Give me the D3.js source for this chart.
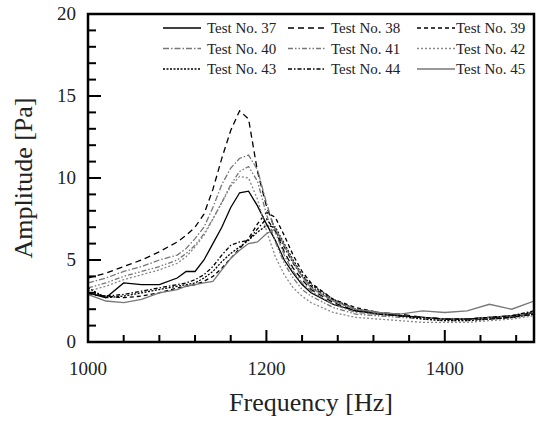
<!DOCTYPE html>
<html>
<head>
<meta charset="utf-8">
<script src="https://cdn.jsdelivr.net/npm/d3@7"></script>
<style>
  html, body { margin: 0; padding: 0; background: #fff; }
  svg { display: block; font-family: 'Liberation Serif', 'Times New Roman', serif; }
</style>
</head>
<body>
<div id="chart"></div>
<script>
// frequency grid [Hz] shared by all tests
const freq = [1000, 1020, 1040, 1060, 1080, 1100, 1110, 1120, 1130, 1140, 1150, 1160, 1170, 1180, 1190, 1200,
  1210, 1220, 1230, 1240, 1250, 1275, 1300, 1325, 1350, 1375, 1400, 1425, 1450, 1475, 1500];

// amplitude [Pa]
const t37 = [3.0, 2.7, 3.6, 3.5, 3.5, 3.9, 4.3, 4.3, 5.0, 6.0, 7.0, 8.2, 9.1, 9.2, 8.3, 7.2,
  6.2, 5.0, 4.2, 3.5, 3.0, 2.3, 1.9, 1.7, 1.6, 1.5, 1.4, 1.4, 1.5, 1.6, 1.8];
const t38 = [3.9, 4.2, 4.6, 5.0, 5.5, 6.1, 6.5, 7.0, 7.8, 9.3, 11.2, 12.9, 14.1, 13.6, 10.4, 8.3,
  6.8, 5.5, 4.5, 3.8, 3.2, 2.4, 1.9, 1.8, 1.7, 1.5, 1.4, 1.4, 1.5, 1.5, 1.7];
const t39 = [2.9, 2.8, 2.7, 2.8, 3.0, 3.3, 3.4, 3.5, 3.7, 4.0, 4.5, 5.1, 5.7, 6.3, 7.2, 7.9,
  7.6, 6.5, 5.3, 4.3, 3.6, 2.6, 2.1, 1.8, 1.6, 1.5, 1.4, 1.4, 1.4, 1.5, 1.8];
const t40 = [3.6, 3.9, 4.3, 4.6, 5.0, 5.3, 5.7, 6.3, 7.0, 8.2, 9.6, 10.6, 11.2, 11.4, 10.5, 8.5,
  6.7, 5.3, 4.3, 3.6, 3.1, 2.3, 1.8, 1.7, 1.6, 1.5, 1.4, 1.4, 1.5, 1.6, 1.8];
const t41 = [3.3, 3.6, 4.0, 4.3, 4.6, 5.0, 5.4, 5.9, 6.6, 7.5, 8.5, 9.6, 10.4, 10.7, 9.8, 7.8,
  6.1, 4.8, 3.9, 3.2, 2.8, 2.1, 1.7, 1.6, 1.5, 1.4, 1.3, 1.3, 1.4, 1.5, 1.7];
const t42 = [3.1, 3.4, 3.8, 4.1, 4.4, 4.8, 5.2, 5.8, 6.5, 7.5, 8.5, 9.5, 10.1, 10.0, 8.7, 6.8,
  5.2, 4.1, 3.3, 2.8, 2.4, 1.8, 1.5, 1.4, 1.3, 1.2, 1.2, 1.2, 1.3, 1.4, 1.6];
const t43 = [3.3, 2.7, 2.8, 3.0, 3.2, 3.4, 3.5, 3.6, 3.9, 4.3, 4.9, 5.4, 5.8, 6.2, 6.7, 7.1,
  7.0, 6.0, 5.0, 4.1, 3.5, 2.6, 2.0, 1.8, 1.6, 1.4, 1.3, 1.3, 1.4, 1.5, 1.7];
const t44 = [3.0, 2.8, 2.9, 3.1, 3.3, 3.5, 3.6, 3.8, 4.1, 4.6, 5.3, 5.9, 6.1, 6.2, 6.9, 7.5,
  6.8, 5.8, 4.8, 4.0, 3.4, 2.5, 2.0, 1.7, 1.6, 1.5, 1.4, 1.4, 1.5, 1.6, 1.9];
const t45 = [2.9, 2.5, 2.4, 2.6, 3.0, 3.2, 3.4, 3.5, 3.6, 3.7, 4.4, 5.1, 5.6, 6.0, 6.1, 6.6,
  6.9, 5.9, 4.9, 4.0, 3.3, 2.5, 2.0, 1.8, 1.7, 1.9, 1.8, 1.9, 2.3, 2.0, 2.5];

const testNos = [37, 38, 39, 40, 41, 42, 43, 44, 45];
const seriesValues = [t37, t38, t39, t40, t41, t42, t43, t44, t45];

const xMajorTicks = [1000, 1200, 1400];
const yMajorTicks = [0, 5, 10, 15, 20];

// line look per test, in the same order as testNos
const styles = [
  { color: '#000', dash: null },
  { color: '#000', dash: '6,4' },
  { color: '#000', dash: '4,3' },
  { color: '#777', dash: '6,2,1.5,2' },
  { color: '#777', dash: '5,2,1.5,2,1.5,2' },
  { color: '#888', dash: '2,2' },
  { color: '#000', dash: '2,1.5' },
  { color: '#000', dash: '4,2,1.5,2' },
  { color: '#777', dash: null }
];

const W = 538, H = 424;
const margin = { top: 14, right: 4, bottom: 82, left: 88 };
const width = W - margin.left - margin.right;
const height = H - margin.top - margin.bottom;

const svg = d3.select('#chart').append('svg').attr('width', W).attr('height', H);
const g = svg.append('g').attr('transform', `translate(${margin.left},${margin.top})`);

const x = d3.scaleLinear().domain([1000, 1500]).range([0, width]);
const y = d3.scaleLinear().domain([0, 20]).range([height, 0]);

g.append('clipPath').attr('id', 'plot-clip')
  .append('rect').attr('width', width).attr('height', height);

// data lines
const line = d3.line().x((d, i) => x(freq[i])).y(d => y(d));
const series = testNos.map((no, i) => ({ no, values: seriesValues[i], ...styles[i] }));

g.append('g').attr('clip-path', 'url(#plot-clip)')
  .selectAll('path').data(series).join('path')
  .attr('fill', 'none')
  .attr('stroke', d => d.color)
  .attr('stroke-width', 1.3)
  .attr('stroke-dasharray', d => d.dash)
  .attr('d', d => line(d.values));

// inward ticks: minor + major
const xTicks = d3.range(1000, 1501, 40);
g.selectAll('.xtick').data(xTicks).join('line')
  .attr('x1', d => x(d)).attr('x2', d => x(d))
  .attr('y1', height).attr('y2', d => height - (xMajorTicks.includes(d) ? 12 : 7))
  .attr('stroke', '#000').attr('stroke-width', 2);

const yTicks = d3.range(0, 21, 1);
g.selectAll('.ytick').data(yTicks).join('line')
  .attr('y1', d => y(d)).attr('y2', d => y(d))
  .attr('x1', 0).attr('x2', d => yMajorTicks.includes(d) ? 13 : 8)
  .attr('stroke', '#000').attr('stroke-width', 2);

// frame
g.append('rect').attr('width', width).attr('height', height)
  .attr('fill', 'none').attr('stroke', '#000').attr('stroke-width', 2.5);

// tick labels
g.selectAll('.xlab').data(xMajorTicks).join('text')
  .attr('x', d => x(d)).attr('y', height + 33)
  .attr('text-anchor', 'middle').attr('font-size', '19px').attr('fill', '#222')
  .text(d => d);

g.selectAll('.ylab').data(yMajorTicks).join('text')
  .attr('x', -12).attr('y', d => y(d) + 6)
  .attr('text-anchor', 'end').attr('font-size', '19px').attr('fill', '#222')
  .text(d => d);

// axis titles
svg.append('text').attr('x', margin.left + width / 2).attr('y', 411)
  .attr('text-anchor', 'middle').attr('font-size', '26px').attr('fill', '#222')
  .text('Frequency [Hz]');
svg.append('text').attr('transform', `translate(32,${margin.top + height / 2}) rotate(-90)`)
  .attr('text-anchor', 'middle').attr('font-size', '26px').attr('fill', '#222')
  .text('Amplitude [Pa]');

// legend, 3 columns x 3 rows
const colSample = [163, 288, 417];
const colText = [207, 331, 456];
const rowY = [28, 48.5, 69];
const leg = svg.append('g').selectAll('g').data(series).join('g')
  .attr('transform', (d, i) => `translate(0,${rowY[Math.floor(i / 3)]})`);
leg.append('line')
  .attr('x1', (d, i) => colSample[i % 3]).attr('x2', (d, i) => colSample[i % 3] + 38)
  .attr('stroke', d => d.color).attr('stroke-width', 1.3)
  .attr('stroke-dasharray', d => d.dash);
leg.append('text')
  .attr('x', (d, i) => colText[i % 3]).attr('y', 5)
  .attr('font-size', '15px').attr('fill', '#222')
  .text(d => `Test No. ${d.no}`);
</script>
</body>
</html>
